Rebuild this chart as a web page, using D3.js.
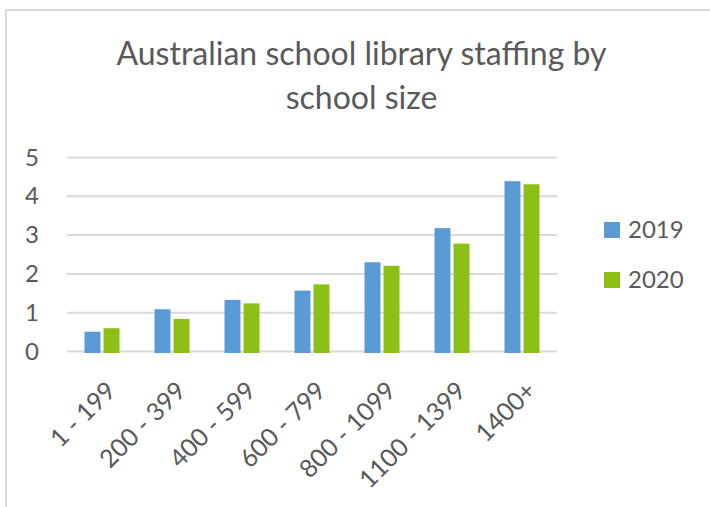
<!DOCTYPE html>
<html>
<head>
<meta charset="utf-8">
<script src="https://cdn.jsdelivr.net/npm/d3@7"></script>
<style>
  html, body { margin: 0; padding: 0; background: #fff; }
  svg { display: block; }
  text { font-family: Lato, "Open Sans", sans-serif; fill: #595959; }
</style>
</head>
<body>
<div id="chart"></div>
<script>
const categories = ["1 - 199", "200 - 399", "400 - 599", "600 - 799", "800 - 1099", "1100 - 1399", "1400+"];
const seriesNames = ["2019", "2020"];
const values2019 = [0.51, 1.09, 1.33, 1.57, 2.30, 3.18, 4.39];
const values2020 = [0.60, 0.84, 1.24, 1.73, 2.21, 2.78, 4.31];
const yTicks = [0, 1, 2, 3, 4, 5];
const titleLines = ["Australian school library staffing by", "school size"];
const colors = ["#5B9BD5", "#8CC014"];

const W = 710, H = 507;
const svg = d3.select("#chart").append("svg").attr("width", W).attr("height", H);

// chart frame (clipped at right/bottom like the reference)
svg.append("path")
  .attr("d", `M6,${H + 5} L6,10 L${W + 5},10`)
  .attr("fill", "none").attr("stroke", "#d9d9d9").attr("stroke-width", 2);

// title
svg.append("g").selectAll("text").data(titleLines).join("text")
  .attr("x", 361.5).attr("y", (d, i) => 65 + i * 44)
  .attr("text-anchor", "middle")
  .style("font-size", "32px")
  .text(d => d);

const x0 = d3.scaleBand().domain(categories).range([67, 557]).paddingInner(0.5).paddingOuter(0.25);
const x1 = d3.scaleBand().domain(seriesNames).range([0, x0.bandwidth()]).paddingInner(0.16);
const y = d3.scaleLinear().domain([0, 5]).range([351.5, 157.5]);

// gridlines
svg.append("g").selectAll("line").data(yTicks).join("line")
  .attr("x1", 67).attr("x2", 557)
  .attr("y1", d => y(d)).attr("y2", d => y(d))
  .attr("stroke", "#d9d9d9").attr("stroke-width", 2);

// y axis labels
const yAxis = d3.axisLeft(y).tickValues(yTicks).tickSize(0).tickPadding(0).tickFormat(d3.format("d"));
const gy = svg.append("g").attr("transform", "translate(39,0)").call(yAxis);
gy.select(".domain").remove();
gy.selectAll("text").style("font-size", "24px").attr("fill", "#595959").style("font-family", "Lato, sans-serif");

// bars
const data = categories.map((c, i) => ({ cat: c, vals: [values2019[i], values2020[i]] }));
const groups = svg.append("g").selectAll("g").data(data).join("g")
  .attr("transform", d => `translate(${x0(d.cat)},0)`);
groups.selectAll("rect").data(d => d.vals.map((v, j) => ({ s: seriesNames[j], v, j })))
  .join("rect")
  .attr("x", d => x1(d.s))
  .attr("width", x1.bandwidth())
  .attr("y", d => y(d.v))
  .attr("height", d => y(0) - y(d.v) + 1.5)
  .attr("fill", d => colors[d.j]);

// x axis labels
const xAxis = d3.axisBottom(x0).tickSize(0).tickPadding(0);
const gx = svg.append("g").call(xAxis);
gx.select(".domain").remove();
gx.selectAll(".tick").attr("transform", d => `translate(${x0(d) + x0.bandwidth() / 2 + 9},386)`);
gx.selectAll("text")
  .attr("x", 0).attr("y", 0).attr("dy", "0.35em")
  .attr("text-anchor", "end")
  .attr("transform", "rotate(-45)")
  .attr("fill", "#595959")
  .style("font-size", "25px").style("font-family", "Lato, sans-serif");

// legend
const legend = svg.append("g").selectAll("g").data(seriesNames).join("g")
  .attr("transform", (d, i) => `translate(604,${222 + i * 50})`);
legend.append("rect").attr("width", 16).attr("height", 16).attr("fill", (d, i) => colors[i]);
legend.append("text").attr("x", 24).attr("y", 16).style("font-size", "24px").text(d => d);
</script>
</body>
</html>
